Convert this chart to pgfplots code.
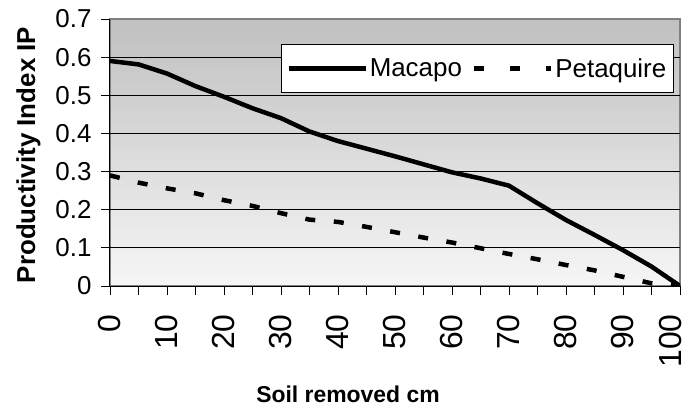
\documentclass[border=0pt]{standalone}
\usepackage{pgfplots}
\pgfplotsset{compat=1.18}
\usepackage{fontspec}
\setmainfont{Liberation Sans}

\definecolor{bgtop}{RGB}{192,192,192}
\definecolor{bgbot}{RGB}{246,246,246}
\definecolor{border}{RGB}{128,128,128}

\begin{document}
\begin{tikzpicture}
\begin{axis}[
    name=ax,
    scale only axis,
    width=570bp, height=267bp,
    xmin=0, xmax=100, ymin=0, ymax=0.7,
    axis x line*=bottom, axis y line*=left,
    x axis line style={-}, y axis line style={-},
    axis line style={black, line width=1bp},
    axis background/.style={shade, top color=bgtop, bottom color=bgbot, draw=border, line width=1.5bp},
    xtick={0,10,...,90},
    extra x ticks={100},
    extra x tick style={xticklabel style={yshift=9bp}},
    minor xtick={5,15,...,95},
    ytick={0,0.1,0.2,0.3,0.4,0.5,0.6},
    extra y ticks={0.7},
    extra y tick style={grid=none},
    ymajorgrids,
    major grid style={black, line width=0.9bp},
    tick align=outside,
    major tick length=9bp, minor tick length=9bp,
    every tick/.style={black, line width=0.9bp},
    /pgf/number format/assume math mode=true,
    yticklabel style={/pgf/number format/fixed, /pgf/number format/precision=1,
        font=\fontsize{26}{30}\selectfont, xshift=-6bp},
    xticklabel style={rotate=90, anchor=east, xshift=-16bp, font=\fontsize{32}{36}\selectfont},
    xlabel={Soil removed cm},
    xlabel style={at={(axis description cs:0.4175,-0.404)}, anchor=center,
        font=\fontsize{23}{27}\selectfont\bfseries},
    ylabel={Productivity Index IP},
    ylabel style={at={(axis description cs:-0.143,0.4906)}, anchor=center, rotate=0,
        font=\fontsize{26}{30}\selectfont\bfseries},
    legend columns=2,
    legend image code/.code={\draw[#1] (0bp,0bp) -- (77bp,0bp);},
    legend style={at={(0.989,0.906)}, anchor=north east, draw=black, line width=0.9bp,
        fill=white, font=\fontsize{26}{30}\selectfont, inner xsep=5bp, inner ysep=12bp,
        /tikz/every odd column/.append style={column sep=0bp},
        /tikz/every even column/.append style={column sep=8bp}},
]
\addplot[black, line width=4.5bp, line join=round] coordinates {
    (0,0.590) (5,0.581) (10,0.557) (15,0.524) (20,0.496) (25,0.466)
    (30,0.440) (35,0.405) (40,0.380) (45,0.360) (50,0.340) (55,0.319)
    (60,0.298) (65,0.282) (70,0.263) (75,0.217) (80,0.173) (85,0.134)
    (90,0.094) (95,0.051) (100,0.000)
};
\addlegendentry{Macapo}
\addplot[black, line width=4.5bp, dash pattern=on 10bp off 18.6bp,
    legend image post style={dash pattern=on 10bp off 26bp}] coordinates {
    (0,0.290) (5,0.271) (10,0.256) (15,0.243) (20,0.225) (25,0.210)
    (30,0.191) (35,0.174) (40,0.168) (45,0.155) (50,0.141) (55,0.127)
    (60,0.114) (65,0.099) (70,0.084) (75,0.070) (80,0.055) (85,0.041)
    (90,0.024) (95,0.007) (100,0.000)
};
\addlegendentry{Petaquire}
\end{axis}
\pgfresetboundingbox
\path ([shift={(-110bp,-123bp)}]ax.south west) rectangle ([shift={(11bp,19bp)}]ax.north east);
\end{tikzpicture}
\end{document}
